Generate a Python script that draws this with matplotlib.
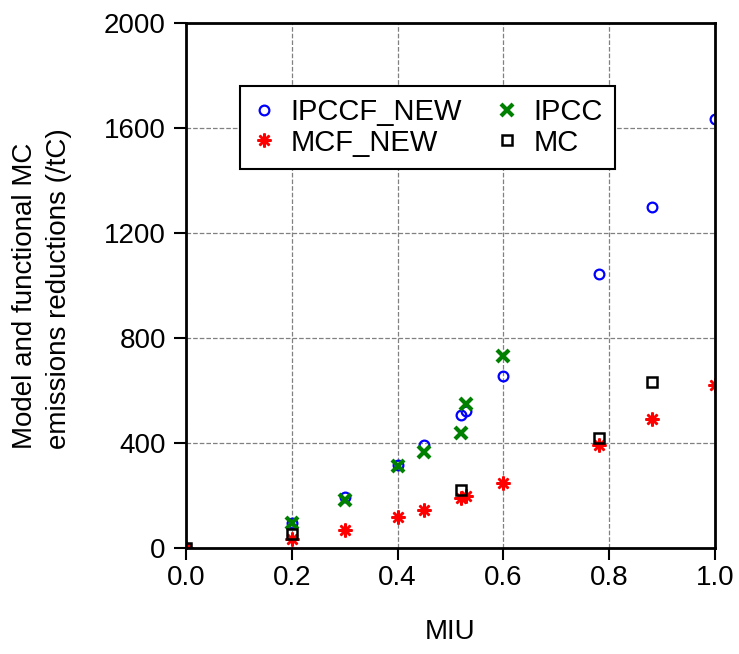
import matplotlib
matplotlib.use("Agg")
import matplotlib.pyplot as plt

plt.rcParams['font.family'] = ['Liberation Sans', 'DejaVu Sans']

# values
miu_new = [0.0, 0.2, 0.3, 0.4, 0.45, 0.52, 0.53, 0.6, 0.78, 0.88, 1.0]
ipccf_new = [0, 95, 193, 316, 394, 507, 523, 655, 1045, 1299, 1634]
mcf_new = [0, 33, 70, 119, 146, 190, 197, 247, 394, 493, 621]

miu_ipcc = [0.2, 0.3, 0.4, 0.45, 0.52, 0.53, 0.6]
ipcc = [97, 183, 312, 366, 438, 550, 731]

miu_mc = [0.0, 0.2, 0.52, 0.78, 0.88]
mc = [0, 53, 221, 419, 633]

fig = plt.figure(figsize=(7.39, 6.54), dpi=100)
ax = fig.add_axes([0.2517, 0.1621, 0.7158, 0.8027])

ax.plot(miu_new, ipccf_new, 'o', ls='none', mfc='none', mec='blue', mew=1.6, ms=7, label='IPCCF_NEW')
ax.plot(miu_new, mcf_new, marker=(8, 2, 0), ls='none', color='red', mew=1.8, ms=10, label='MCF_NEW')
ax.plot(miu_ipcc, ipcc, 'x', ls='none', color='green', mew=3, ms=9, label='IPCC')
ax.plot(miu_mc, mc, 's', ls='none', mfc='none', mec='black', mew=1.8, ms=7, label='MC')

ax.set_xlim(0, 1.0)
ax.set_ylim(0, 2000)
ax.set_xticks([0.0, 0.2, 0.4, 0.6, 0.8, 1.0])
ax.set_xticklabels(['0.0', '0.2', '0.4', '0.6', '0.8', '1.0'])
ax.set_yticks([0, 400, 800, 1200, 1600, 2000])
ax.tick_params(labelsize=20, length=8.5, width=1.5, direction='out')
ax.tick_params(axis='x', pad=4)
ax.tick_params(axis='y', pad=6)
ax.grid(True, ls='--', color='gray', lw=0.9)
for s in ax.spines.values():
    s.set_linewidth(2)

ax.set_xlabel('MIU', fontsize=20)
ax.xaxis.set_label_coords(0.5, -0.135)
ax.set_ylabel('Model and functional MC\nemissions reductions (/tC)', fontsize=20,
              linespacing=1.4, multialignment='left')
ax.yaxis.set_label_coords(-0.215, 0.495)

leg = ax.legend(loc='upper left', bbox_to_anchor=(240 / 739, 1 - 86 / 654),
                bbox_transform=fig.transFigure, borderaxespad=0, ncol=2, fontsize=21,
                fancybox=False, edgecolor='black', framealpha=1, handletextpad=0.5,
                columnspacing=1.15, borderpad=0.42, labelspacing=0.08, handlelength=0.8)
leg.get_frame().set_linewidth(1.5)

fig.savefig('out.png', dpi=100)
